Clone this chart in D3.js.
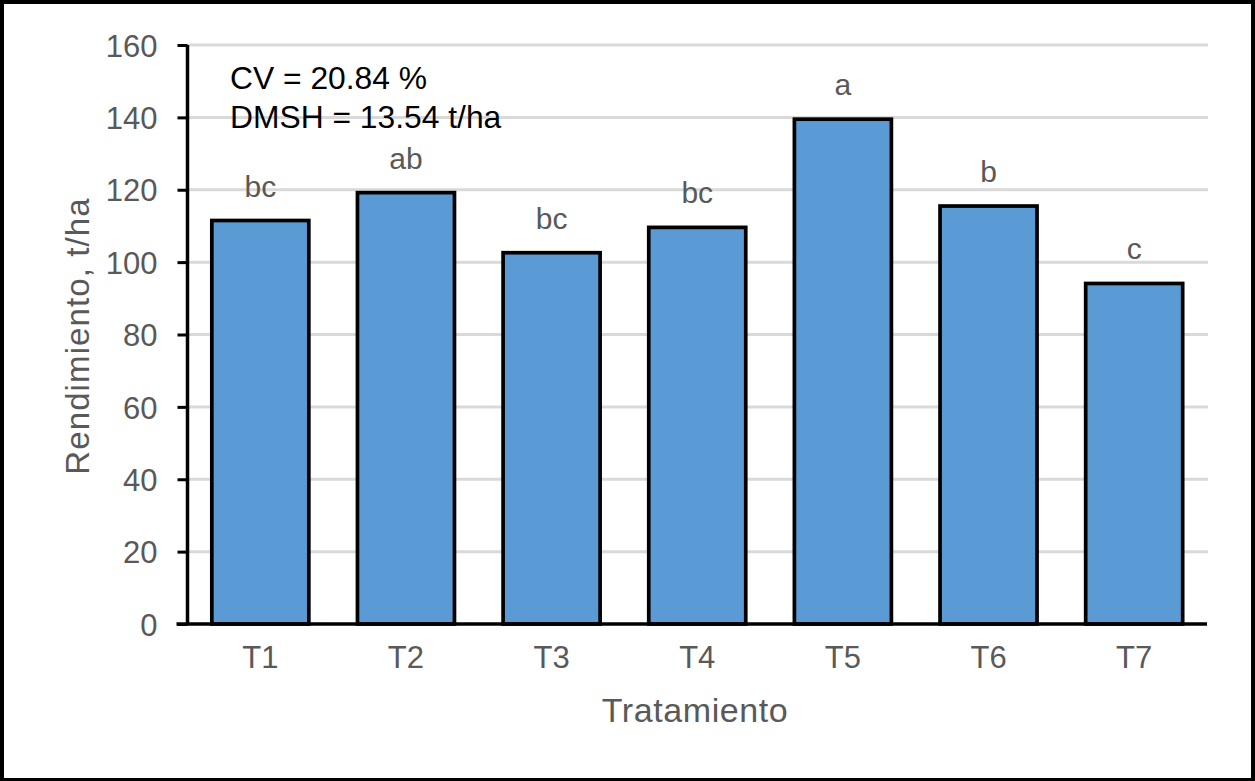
<!DOCTYPE html>
<html>
<head>
<meta charset="utf-8">
<script src="https://cdn.jsdelivr.net/npm/d3@7"></script>
<style>
  html, body { margin: 0; padding: 0; background: #fff; }
  svg { display: block; }
  text { font-family: "Liberation Sans", Arial, sans-serif; }
</style>
</head>
<body>
<svg id="chart" width="1255" height="781"></svg>
<script>
const categories = ["T1", "T2", "T3", "T4", "T5", "T6", "T7"];
const values = [111.5, 119.2, 102.6, 109.6, 139.5, 115.5, 94.1];
const groups = ["bc", "ab", "bc", "bc", "a", "b", "c"];
const yTicks = [0, 20, 40, 60, 80, 100, 120, 140, 160];
const notes = ["CV = 20.84 %", "DMSH = 13.54 t/ha"];
const xTitle = "Tratamiento";
const yTitle = "Rendimiento, t/ha";

(function () {
const svg = d3.select("#chart");
const W = 1255;
const pL = 187.5, pR = 1207, pT = 45, pB = 624;

svg.append("rect").attr("x", 2).attr("y", 2).attr("width", W - 4).attr("height", 778)
  .attr("fill", "#fff").attr("stroke", "#000").attr("stroke-width", 4);

const x = d3.scaleBand().domain(categories).range([pL, pR])
  .paddingInner(0.334).paddingOuter(0.167);
const y = d3.scaleLinear().domain([0, 160]).range([pB, pT]);

// gridlines
svg.append("g").selectAll("line").data(yTicks.filter(d => d > 0)).join("line")
  .attr("x1", pL).attr("x2", pR + 1)
  .attr("y1", d => y(d)).attr("y2", d => y(d))
  .attr("stroke", "#d9d9d9").attr("stroke-width", 3);

// bars
svg.append("g").selectAll("rect").data(categories).join("rect")
  .attr("x", d => x(d)).attr("width", x.bandwidth())
  .attr("y", (d, i) => y(values[i])).attr("height", (d, i) => y(0) - y(values[i]))
  .attr("fill", "#5b9bd5").attr("stroke", "#000").attr("stroke-width", 3.7);

// group letters
svg.append("g").selectAll("text").data(categories).join("text")
  .attr("x", d => x(d) + x.bandwidth() / 2)
  .attr("y", (d, i) => y(values[i]) - 24)
  .attr("text-anchor", "middle").attr("fill", "#595959").attr("font-size", 30)
  .text((d, i) => groups[i]);

// y axis
const yAxis = d3.axisLeft(y).tickValues(yTicks).tickSize(10).tickPadding(20);
const gy = svg.append("g").attr("transform", `translate(${pL},0)`).call(yAxis);
gy.select(".domain").attr("stroke", "#000").attr("stroke-width", 3.5)
  .attr("d", `M0,${pT}V${pB}`);
gy.selectAll(".tick line").attr("stroke", "#000").attr("stroke-width", 3);
gy.selectAll(".tick text").attr("fill", "#595959").attr("font-size", 31)
  .attr("font-family", "Liberation Sans, Arial, sans-serif").attr("dy", "0.36em");

// x axis
const xAxis = d3.axisBottom(x).tickSize(0).tickPadding(22);
const gx = svg.append("g").attr("transform", `translate(0,${pB})`).call(xAxis);
gx.select(".domain").attr("stroke", "#000").attr("stroke-width", 3.5)
  .attr("d", `M${pL - 11},0H${pR}`);
gx.selectAll(".tick text").attr("fill", "#595959").attr("font-size", 31)
  .attr("font-family", "Liberation Sans, Arial, sans-serif");

// titles
svg.append("text").attr("x", 695).attr("y", 722)
  .attr("text-anchor", "middle").attr("fill", "#595959").attr("font-size", 34)
  .attr("letter-spacing", 0.6).text(xTitle);
svg.append("text").attr("transform", `translate(89,336) rotate(-90)`)
  .attr("text-anchor", "middle").attr("fill", "#595959").attr("font-size", 33)
  .attr("letter-spacing", 1.1).text(yTitle);

// notes
svg.append("g").selectAll("text").data(notes).join("text")
  .attr("x", 230).attr("y", (d, i) => 89 + i * 39)
  .attr("fill", "#000").attr("font-size", 31.8).text(d => d);
})();
</script>
</body>
</html>
